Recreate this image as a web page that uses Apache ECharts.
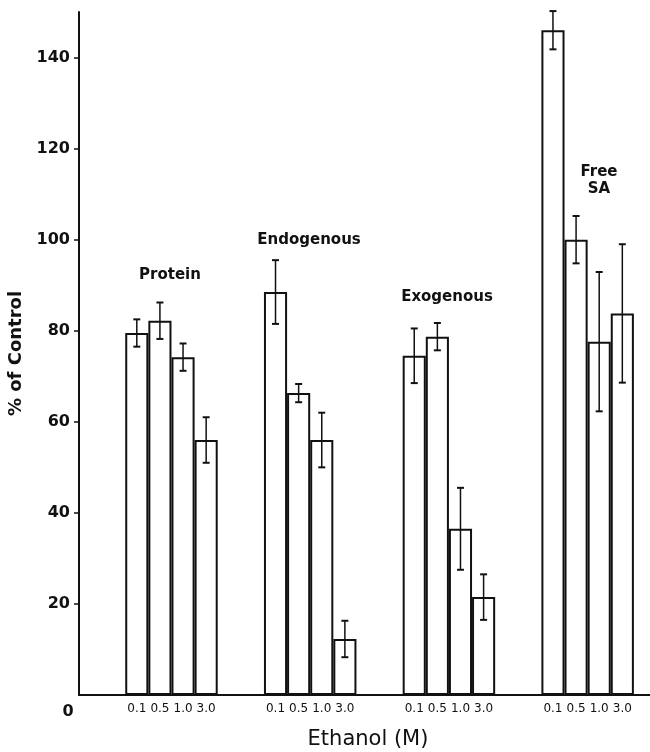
<!DOCTYPE html>
<html>
<head>
<meta charset="utf-8">
<script src="https://cdn.jsdelivr.net/npm/echarts@6/dist/echarts.min.js"></script>
<style>
html, body { margin: 0; padding: 0; background: #fff; }
#chart { width: 650px; height: 752px; }
</style>
</head>
<body>
<div id="chart"></div>
<script>
// ethanol doses shown under each group
var doseLabels = ['0.1', '0.5', '1.0', '3.0'];
var groupNames = ['Protein', 'Endogenous', 'Exogenous', 'Free\nSA'];

// % of control, mean and +/- error
var proteinMeans = [79.5, 82.2, 74.2, 56];
var proteinErrors = [3, 4, 3, 5];
var endogenousMeans = [88.5, 66.3, 56, 12.3];
var endogenousErrors = [7, 2, 6, 4];
var exogenousMeans = [74.5, 78.7, 36.5, 21.5];
var exogenousErrors = [6, 3, 9, 5];
var freeSAMeans = [146, 100, 77.6, 83.8];
var freeSAErrors = [4.2, 5.2, 15.3, 15.2];

var yTicks = [20, 40, 60, 80, 100, 120, 140];

var chartDom = document.getElementById('chart');
var chartInstance = echarts.init(chartDom);

var allMeans = [proteinMeans, endogenousMeans, exogenousMeans, freeSAMeans];
var allErrors = [proteinErrors, endogenousErrors, exogenousErrors, freeSAErrors];

// two empty slots in front of every group, one at the end
var categories = [];
var barData = [];
var errorData = [];
for (var g = 0; g < allMeans.length; g++) {
    categories.push('', '');
    barData.push('-', '-');
    for (var i = 0; i < doseLabels.length; i++) {
        errorData.push([categories.length, allMeans[g][i], allErrors[g][i]]);
        categories.push(doseLabels[i]);
        barData.push(allMeans[g][i]);
    }
}
categories.push('');
barData.push('-');

function renderErrorBar(params, api) {
    var x = api.value(0);
    var mean = api.value(1);
    var err = api.value(2);
    var hi = api.coord([x, mean + err]);
    var lo = api.coord([x, mean - err]);
    var cap = 3.5;
    return {
        type: 'group',
        children: [
            { type: 'line', shape: { x1: hi[0], y1: hi[1], x2: lo[0], y2: lo[1] }, style: { stroke: '#111', lineWidth: 1.5 } },
            { type: 'line', shape: { x1: hi[0] - cap, y1: hi[1], x2: hi[0] + cap, y2: hi[1] }, style: { stroke: '#111', lineWidth: 2 } },
            { type: 'line', shape: { x1: lo[0] - cap, y1: lo[1], x2: lo[0] + cap, y2: lo[1] }, style: { stroke: '#111', lineWidth: 2 } }
        ]
    };
}

var labelFont = { fontFamily: 'DejaVu Sans', fontWeight: 'bold', fontSize: 15, fill: '#111' };
var groupLabelPos = [[170, 275], [309, 240], [447, 297], [599, 181]];
var graphics = [{
    type: 'text', x: 68, y: 712,
    style: { text: '0', fontFamily: 'DejaVu Sans', fontWeight: 'bold', fontSize: 16, fill: '#111', align: 'center', verticalAlign: 'middle' }
}];
for (var k = 0; k < groupNames.length; k++) {
    graphics.push({
        type: 'text', x: groupLabelPos[k][0], y: groupLabelPos[k][1],
        style: Object.assign({ text: groupNames[k], align: 'center', verticalAlign: 'middle', lineHeight: 17 }, labelFont)
    });
}

var chartOption = {
    animation: false,
    backgroundColor: '#fff',
    grid: { left: 79, top: 12, width: 578, height: 683, containLabel: false, outerBoundsMode: 'none' },
    xAxis: {
        type: 'category',
        data: categories,
        name: 'Ethanol (M)',
        nameLocation: 'middle',
        nameGap: 34,
        nameTextStyle: { fontFamily: 'DejaVu Sans', fontSize: 21, color: '#111' },
        axisLine: { lineStyle: { color: '#111', width: 2 } },
        axisTick: { show: false },
        axisLabel: { interval: 0, margin: 8, fontFamily: 'DejaVu Sans', fontSize: 12, color: '#111' },
        splitLine: { show: false }
    },
    yAxis: {
        type: 'value',
        min: 0,
        max: 150,
        name: '% of Control',
        nameLocation: 'middle',
        nameRotate: 90,
        nameGap: 47,
        nameTextStyle: { fontFamily: 'DejaVu Sans', fontWeight: 'bold', fontSize: 18, color: '#111' },
        axisLine: { show: true, lineStyle: { color: '#111', width: 2 } },
        axisTick: { show: true, customValues: yTicks, length: 5, lineStyle: { color: '#111', width: 1.5 } },
        axisLabel: { customValues: yTicks, margin: 9, fontFamily: 'DejaVu Sans', fontWeight: 'bold', fontSize: 16, color: '#111' },
        splitLine: { show: false }
    },
    series: [
        {
            type: 'bar',
            data: barData,
            barWidth: '100%',
            itemStyle: { color: '#fff', borderColor: '#111', borderWidth: 2 }
        },
        {
            type: 'custom',
            renderItem: renderErrorBar,
            data: errorData,
            encode: { x: 0, y: 1 },
            z: 5
        }
    ],
    graphic: graphics
};

chartInstance.setOption(chartOption);
</script>
</body>
</html>
